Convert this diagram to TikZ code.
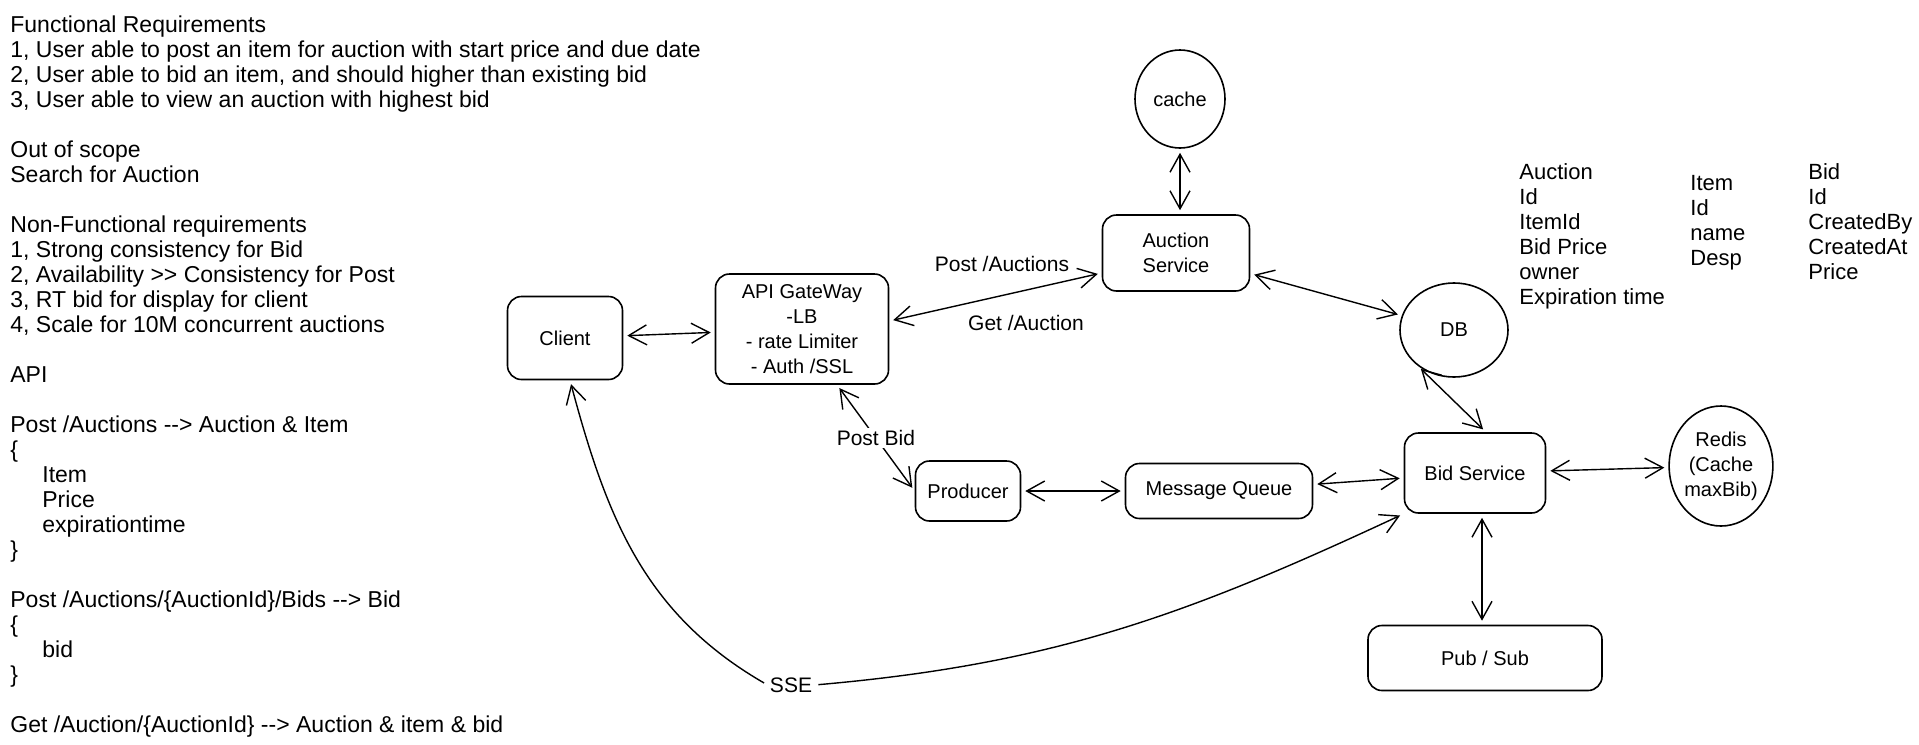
\documentclass[tikz,border=0pt]{standalone}
\usepackage{fontspec}
\setmainfont{Liberation Sans}
\usetikzlibrary{arrows.meta,shapes.geometric}

\tikzset{
  barb/.tip={Straight Barb[length=9pt,width=10pt]},
  box/.style={draw, rounded corners=7pt, line width=0.8pt, align=center, inner sep=2pt,
    font=\fontsize{10}{12.5}\selectfont},
  store/.style={draw, ellipse, line width=0.8pt, align=center, inner sep=0pt,
    font=\fontsize{10}{12.5}\selectfont},
  note/.style={align=left, inner sep=0pt, font=\fontsize{11.5}{12.5}\selectfont},
  model/.style={align=left, inner sep=0pt, font=\fontsize{11}{12.5}\selectfont},
  tag/.style={inner sep=1pt, font=\fontsize{10.5}{12.5}\selectfont},
  link/.style={barb-barb, line width=0.7pt, shorten >=2pt, shorten <=2pt},
}

\begin{document}
\begin{tikzpicture}[x=0.5pt,y=0.5pt,line join=round]
  \useasboundingbox (0,0) rectangle (1919,-745);

  % requirements and api
  \node[note,anchor=north west] (notes) at (10,-15) {Functional Requirements\\
    1, User able to post an item for auction with start price and due date\\
    2, User able to bid an item, and should higher than existing bid\\
    3, User able to view an auction with highest bid\\[12.5pt]
    Out of scope\\
    Search for Auction\\[12.5pt]
    Non-Functional requirements\\
    1, Strong consistency for Bid\\
    2, Availability >{}> Consistency for Post\\
    3, RT bid for display for client\\
    4, Scale for 10M concurrent auctions\\[12.5pt]
    API\\[12.5pt]
    Post /Auctions -{}-> Auction \& Item\\
    \{\\
    \hspace*{16pt}Item\\
    \hspace*{16pt}Price\\
    \hspace*{16pt}expirationtime\\
    \}\\[12.5pt]
    Post /Auctions/\{AuctionId\}/Bids -{}-> Bid\\
    \{\\
    \hspace*{16pt}bid\\
    \}\\[12.5pt]
    Get /Auction/\{AuctionId\} -{}-> Auction \& item \& bid};

  % data model
  \node[model,anchor=north west] (auctionmodel) at (1519,-163) {Auction\\Id\\ItemId\\Bid Price\\owner\\Expiration time};
  \node[model,anchor=north west] (itemmodel) at (1690,-175) {Item\\Id\\name\\Desp};
  \node[model,anchor=north west] (bidmodel) at (1808,-163) {Bid\\Id\\CreatedBy\\CreatedAt\\Price};

  % services
  \node[box,minimum width=57.5pt,minimum height=41.5pt] (client) at (565,-338) {Client};
  \node[box,minimum width=86.5pt,minimum height=55pt] (api) at (802,-329) {API GateWay\\-LB\\- rate Limiter\\- Auth /SSL};
  \node[box,minimum width=73.5pt,minimum height=38pt] (auction) at (1176,-253) {Auction\\Service};
  \node[store,minimum width=45pt,minimum height=49pt] (cache) at (1180,-99) {cache};
  \node[store,minimum width=54pt,minimum height=47pt] (db) at (1454,-330) {DB};
  \node[box,minimum width=70.5pt,minimum height=40pt] (bid) at (1475,-473) {Bid Service};
  \node[store,minimum width=49pt,minimum height=60pt] (redis) at (1721,-466) {Redis\\(Cache\\maxBib)};
  \node[box,minimum width=52.5pt,minimum height=30pt] (producer) at (968,-491) {Producer};
  \node[box,minimum width=93.5pt,minimum height=27.5pt] (mq) at (1219,-491) {Message Queue};
  \node[box,minimum width=117pt,minimum height=32.5pt] (pubsub) at (1485,-658) {Pub / Sub};

  % connectors
  \draw[link] (client) -- (api);
  \draw[link] ([yshift=4pt]api.east) -- ([yshift=-10pt]auction.west);
  \node[tag] (postauctions) at (1002,-264) {Post /Auctions};
  \node[tag] (getauction) at (1026,-323) {Get /Auction};
  \draw[link] (cache) -- (cache |- auction.north);
  \draw[link] (auction) -- (db);
  \draw[link] (db.225) -- ([xshift=5.5pt]bid.north);
  \draw[link] ([xshift=17.5pt]api.south) -- node[tag,fill=white] (postbid) {Post Bid} (producer.west);
  \draw[link] (producer.east) -- (mq.west);
  \draw[link] (mq) -- (bid);
  \draw[link] (bid) -- (redis);
  \draw[link] ([xshift=3.5pt]bid.south) -- ([xshift=3.5pt]bid.south |- pubsub.north);

  % server sent events
  \node[tag] (sse) at (791,-685) {SSE};
  \draw[link,barb-] ([xshift=2.5pt]client.south) to[out=-75,in=150] (sse.west);
  \draw[link,barb-] (bid.south west) to[out=205,in=5] (sse.east);
\end{tikzpicture}
\end{document}
